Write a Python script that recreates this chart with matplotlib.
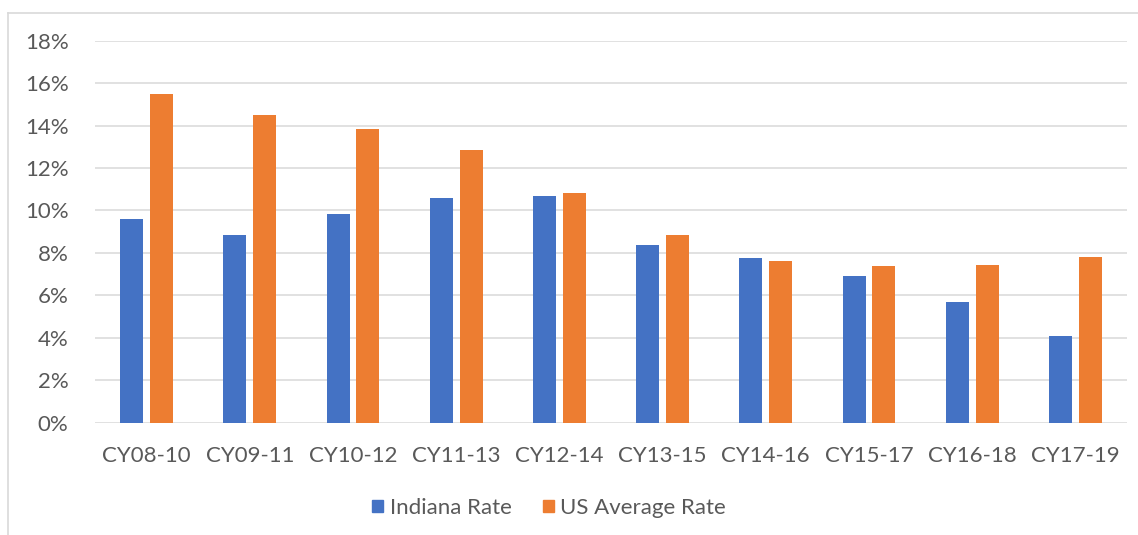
import matplotlib
matplotlib.use("Agg")
import matplotlib.pyplot as plt
import numpy as np
from matplotlib.lines import Line2D
from matplotlib.patches import Patch

categories = ["CY08-10", "CY09-11", "CY10-12", "CY11-13", "CY12-14",
              "CY13-15", "CY14-16", "CY15-17", "CY16-18", "CY17-19"]
indiana_rate = [9.62, 8.85, 9.83, 10.61, 10.68, 8.37, 7.74, 6.89, 5.71, 4.10]
us_average_rate = [15.49, 14.50, 13.85, 12.83, 10.80, 8.85, 7.61, 7.39, 7.45, 7.80]
y_ticks = [0, 2, 4, 6, 8, 10, 12, 14, 16, 18]

plt.rcParams['font.family'] = ['Lato', 'DejaVu Sans']
W, H = 1138, 535
fig = plt.figure(figsize=(W / 100, H / 100), dpi=100)
ax = fig.add_axes([95 / W, 1 - 422.7 / H, (1127 - 95) / W, (422.7 - 40.7) / H])

x = np.arange(len(categories))
bw = 0.223
off = 0.145
ax.bar(x - off, indiana_rate, width=bw, color="#4472C4", zorder=3, label="Indiana Rate")
ax.bar(x + off, us_average_rate, width=bw, color="#ED7D31", zorder=3, label="US Average Rate")

fs = 16
ax.set_xlim(-0.5, len(categories) - 0.5)
ax.set_ylim(0, 18)
ax.set_yticks(y_ticks)
ax.set_yticklabels([f"{t}%" for t in y_ticks])
ax.set_xticks(x)
ax.set_xticklabels(categories)
ax.tick_params(axis="both", length=0, colors="#595959", labelsize=fs)
ax.tick_params(axis="x", pad=17)
ax.tick_params(axis="y", pad=19)
ax.yaxis.grid(True, color="#D9D9D9", linewidth=1.1, zorder=0)
ax.set_axisbelow(True)
for s in ax.spines.values():
    s.set_visible(False)

handles = [Patch(color="#4472C4", label="Indiana Rate"),
           Patch(color="#ED7D31", label="US Average Rate")]
fig.legend(handles=handles, loc="center", bbox_to_anchor=(549 / W, 1 - 508 / H),
           ncol=2, frameon=False, fontsize=fs, labelcolor="#595959",
           handlelength=0.5, handleheight=0.5, handletextpad=0.3, columnspacing=1.4)

bx, by = 7.5 / W, 1 - 12.5 / H
fig.add_artist(Line2D([bx, bx], [0, by], transform=fig.transFigure, color="#D9D9D9", lw=1.2))
fig.add_artist(Line2D([bx, 1], [by, by], transform=fig.transFigure, color="#D9D9D9", lw=1.2))

fig.savefig("out.png", dpi=100, facecolor="white")
